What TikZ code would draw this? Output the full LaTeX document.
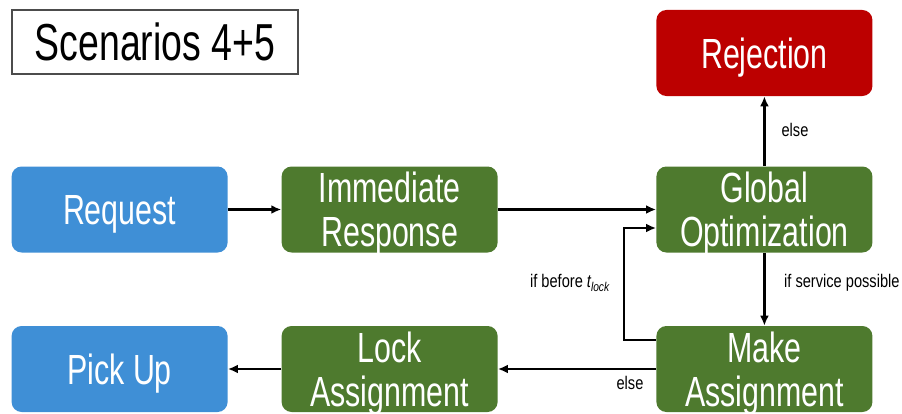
\documentclass[tikz,border=0pt]{standalone}
\usepackage{fontspec}
\setmainfont[FakeStretch=0.8]{Liberation Sans}
\newfontfamily\boxfont[FakeStretch=0.72]{Liberation Sans}
\usetikzlibrary{arrows.meta}
\definecolor{boxgreen}{HTML}{4E7A2E}
\definecolor{boxblue}{HTML}{3F8FD6}
\definecolor{boxred}{HTML}{BC0000}
\begin{document}
\begin{tikzpicture}[
  box/.style={rounded corners=0.25cm, minimum width=5.4cm, minimum height=2.15cm, text=white, align=center, font=\boxfont\fontsize{30}{31}\selectfont, inner sep=0pt, text depth=-0.12cm},
  proc/.style={box, fill=boxgreen},
  ends/.style={box, fill=boxblue},
  rej/.style={box, fill=boxred},
  flow/.style={-{Latex[length=0.25cm,width=0.22cm]}, line width=1.6pt},
  lbl/.style={font=\fontsize{13}{15}\selectfont}
]
\useasboundingbox (0,0) rectangle (22.55,10.325);
% title
\node[draw=black!70, line width=0.8pt, minimum width=7.15cm, minimum height=1.6cm, font=\boxfont\fontsize{37}{38}\selectfont] (title) at (3.875,9.275) {Scenarios 4+5};
% boxes
\node[ends] (req) at (2.99,5.0875) {Request};
\node[proc] (imm) at (9.74,5.0875) {Immediate\\Response};
\node[proc] (glob) at (19.11,5.0875) {Global\\Optimization};
\node[rej] (rej) at (19.11,9.0) {Rejection};
\node[ends] (pick) at (2.99,1.1) {Pick Up};
\node[proc] (lock) at (9.74,1.1) {Lock\\Assignment};
\node[proc] (make) at (19.11,1.1) {Make\\Assignment};
% arrows
\draw[flow] (req) -- (imm);
\draw[flow] (imm) -- (glob);
\draw[flow] (glob) -- (rej);
\draw[flow] (glob) -- (make);
\draw[flow] (make) -- (lock);
\draw[flow] (lock) -- (pick);
\draw[flow] ([yshift=0.725cm]make.west) -- ++(-0.8,0) |- ([yshift=-0.4625cm]glob.west);
% labels
\node[lbl] (l1) at (19.875,7.075) {else};
\node[lbl, anchor=west] (l2) at (19.48,3.25) {if service possible};
\node[lbl] (l3) at (14.25,3.25) {if before {\itshape t}\textsubscript{\itshape lock}};
\node[lbl] (l4) at (15.75,0.75) {else};
\end{tikzpicture}
\end{document}
